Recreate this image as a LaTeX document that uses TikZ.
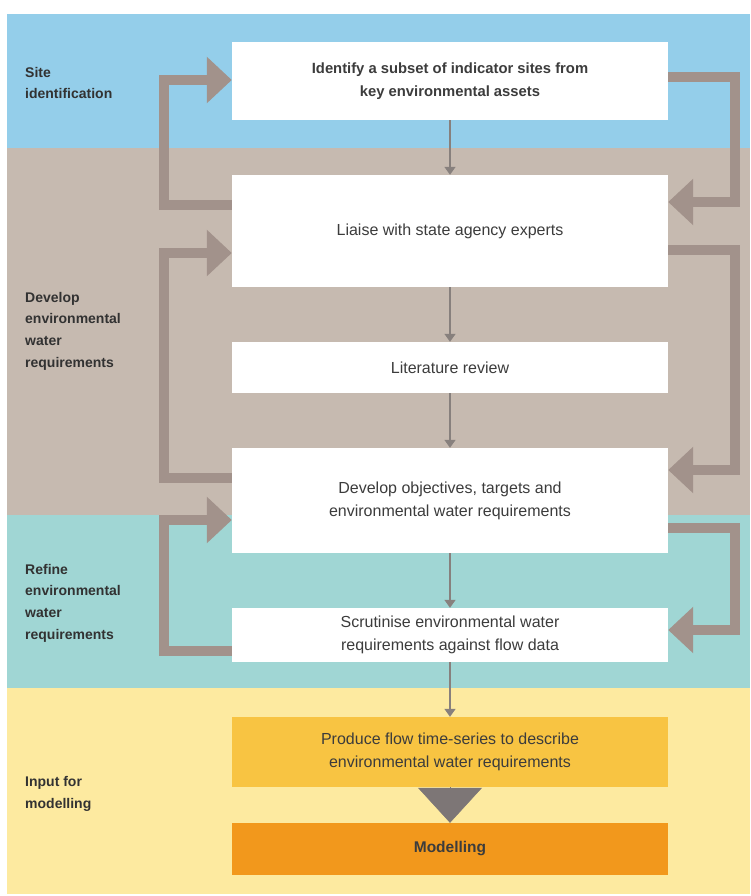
\documentclass[tikz,border=0pt]{standalone}
\usepackage{fontspec}
\setmainfont{Liberation Sans}
\usetikzlibrary{arrows.meta}
\definecolor{bandblue}{RGB}{148,206,234}
\definecolor{bandtaupe}{RGB}{198,186,176}
\definecolor{bandteal}{RGB}{160,214,212}
\definecolor{bandyellow}{RGB}{253,234,160}
\definecolor{boxgold}{RGB}{248,196,66}
\definecolor{boxorange}{RGB}{242,152,28}
\definecolor{fbgray}{RGB}{162,146,139}
\definecolor{thingray}{RGB}{135,128,125}
\definecolor{trigray}{RGB}{125,118,118}
\definecolor{txtgray}{RGB}{60,60,60}
\definecolor{lblgray}{RGB}{50,50,50}
\tikzset{
  stepbox/.style={fill=white, draw=none, minimum width=436pt, inner sep=0pt,
    align=center, text=txtgray, font=\fontsize{16}{23}\selectfont},
  lbl/.style={anchor=west, inner sep=0pt, align=left, text=lblgray,
    font=\fontsize{14}{21.7}\selectfont\bfseries},
  thin/.style={draw=thingray, line width=1.6pt, -{Triangle[length=8pt,width=11pt]}},
  fb/.style={draw=fbgray, line width=10.5pt, line join=miter,
    -{Triangle[length=25pt,width=45pt]}}
}
\begin{document}
\begin{tikzpicture}[x=1pt,y=-1pt]
\useasboundingbox (0,0) rectangle (750,896);
% bands
\fill[bandblue] (7,14) rectangle (750,148);
\fill[bandtaupe] (7,148) rectangle (750,515);
\fill[bandteal] (7,515) rectangle (750,688);
\fill[bandyellow] (7,688) rectangle (750,894);
% labels
\node[lbl] (l1) at (25,83) {Site\\identification};
\node[lbl] (l2) at (25,331) {Develop\\environmental\\water\\requirements};
\node[lbl] (l3) at (25,603) {Refine\\environmental\\water\\requirements};
\node[lbl] (l4) at (25,794) {Input for\\modelling};
% boxes
\node[stepbox, minimum height=78pt, font=\fontsize{14.8}{23}\selectfont\bfseries] (b1) at (450,81)
  {Identify a subset of indicator sites from\\key environmental assets};
\node[stepbox, minimum height=112pt] (b2) at (450,231) {Liaise with state agency experts};
\node[stepbox, minimum height=51pt] (b3) at (450,367.5) {Literature review};
\node[stepbox, minimum height=105pt] (b4) at (450,500.5)
  {Develop objectives, targets and\\environmental water requirements};
\node[stepbox, minimum height=54pt] (b5) at (450,635)
  {Scrutinise environmental water\\requirements against flow data};
\node[stepbox, minimum height=70pt, fill=boxgold] (b6) at (450,752)
  {Produce flow time-series to describe\\environmental water requirements};
\node[stepbox, minimum height=52pt, fill=boxorange, font=\fontsize{15.5}{23}\selectfont\bfseries] (b7) at (450,849)
  {Modelling};
% thin arrows
\draw[thin] (b1.south) -- (b2.north);
\draw[thin] (b2.south) -- (b3.north);
\draw[thin] (b3.south) -- (b4.north);
\draw[thin] (b4.south) -- (b5.north);
\draw[thin] (b5.south) -- (b6.north);
% big triangle
\draw[draw=trigray, fill=trigray, line width=0.5pt, -{Triangle[length=35pt,width=64pt]}] (b6.south) -- (b7.north);
% feedback loops
\draw[fb] (b2.west |- 0,205) -- (164,205) -- (164,80) -- (b1.west |- 0,80);
\draw[fb] (b1.east |- 0,77) -- (735,77) -- (735,202) -- (b2.east |- 0,202);
\draw[fb] (b4.west |- 0,478) -- (164,478) -- (164,253) -- (b2.west |- 0,253);
\draw[fb] (b2.east |- 0,250) -- (735,250) -- (735,470) -- (b4.east |- 0,470);
\draw[fb] (b5.west |- 0,651) -- (164,651) -- (164,520) -- (b4.west |- 0,520);
\draw[fb] (b4.east |- 0,528) -- (735,528) -- (735,630) -- (b5.east |- 0,630);
\end{tikzpicture}
\end{document}
